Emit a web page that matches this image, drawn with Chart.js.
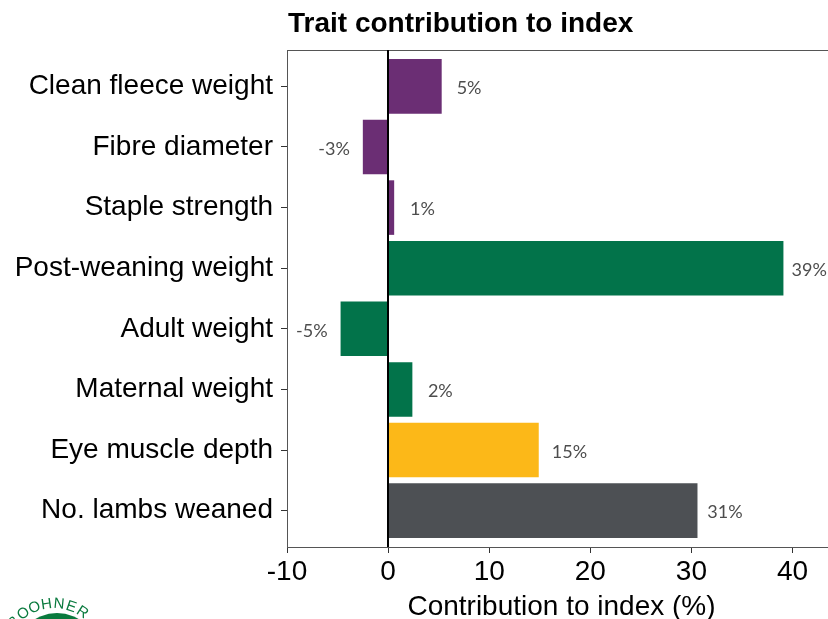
<!DOCTYPE html>
<html>
<head>
<meta charset="utf-8">
<script src="https://cdn.jsdelivr.net/npm/chart.js@4/dist/chart.umd.min.js"></script>
<style>
  html, body { margin: 0; padding: 0; background: #fff; overflow: hidden; }
  canvas { display: block; }
</style>
</head>
<body>
<canvas id="chart" width="840" height="619"></canvas>
<script>
const traits = ['Clean fleece weight', 'Fibre diameter', 'Staple strength', 'Post-weaning weight',
                'Adult weight', 'Maternal weight', 'Eye muscle depth', 'No. lambs weaned']
const contribution = [5.3, -2.5, 0.6, 39.1, -4.7, 2.4, 14.9, 30.6]
const valueLabels = ['5%', '-3%', '1%', '39%', '-5%', '2%', '15%', '31%']
const barColors = ['#6b2e74', '#6b2e74', '#6b2e74', '#02734a', '#02734a', '#02734a', '#fcb818', '#4d5054']
const xTicks = [-10, 0, 10, 20, 30, 40]

const titlePlugin = {
  id: 'panelExtras',
  beforeDatasetsDraw(chart) {
    const { ctx, chartArea: a } = chart
    ctx.save()
    ctx.strokeStyle = '#555'
    ctx.lineWidth = 1
    ctx.strokeRect(a.left + 0.5, a.top + 0.5, a.right - a.left, a.bottom - a.top)
    ctx.restore()
  },
  afterDatasetsDraw(chart) {
    const { ctx, chartArea: a } = chart
    const x = chart.scales.x
    const meta = chart.getDatasetMeta(0)
    ctx.save()
    // zero line
    ctx.strokeStyle = '#000'
    ctx.lineWidth = 2
    ctx.beginPath()
    ctx.moveTo(Math.round(x.getPixelForValue(0)), a.top)
    ctx.lineTo(Math.round(x.getPixelForValue(0)), a.bottom)
    ctx.stroke()
    // value labels
    ctx.font = '18px Lato'
    ctx.fillStyle = '#4d4d4d'
    ctx.textBaseline = 'middle'
    meta.data.forEach((bar, i) => {
      const v = contribution[i]
      if (v >= 0) { ctx.textAlign = 'left'; ctx.fillText(valueLabels[i], bar.x + 16 - 0.2 * v, bar.y + 2) }
      else { ctx.textAlign = 'right'; ctx.fillText(valueLabels[i], bar.x - 13, bar.y + 2) }
    })
    // title
    ctx.font = 'bold 28px "Liberation Sans"'
    ctx.fillStyle = '#000'
    ctx.textAlign = 'left'
    ctx.textBaseline = 'alphabetic'
    ctx.fillText('Trait contribution to index', a.left + 1, 32)
    // logo remnant bottom-left
    ctx.fillStyle = '#0a7a3e'
    ctx.beginPath()
    ctx.arc(57, 655, 42, 0, Math.PI * 2)
    ctx.fill()
    ctx.font = '15px "Liberation Sans"'
    ctx.textAlign = 'center'
    ctx.textBaseline = 'middle'
    const letters = ['B', 'O', 'O', 'H', 'N', 'E', 'R']
    letters.forEach((ch, i) => {
      const ang = -Math.PI / 2 + (i - 3.6) * 0.24
      ctx.save()
      ctx.translate(54 + 52 * Math.cos(ang), 656 + 52 * Math.sin(ang))
      ctx.rotate(ang + Math.PI / 2)
      ctx.fillText(ch, 0, 0)
      ctx.restore()
    })
    ctx.restore()
  }
}

const ctx = document.getElementById('chart').getContext('2d')
new Chart(ctx, {
  type: 'bar',
  data: {
    datasets: [{
      data: contribution.map((v, i) => ({ x: v, y: i })),
      backgroundColor: barColors,
      borderWidth: 0,
      barPercentage: 0.9,
      categoryPercentage: 1
    }]
  },
  plugins: [titlePlugin],
  options: {
    indexAxis: 'y',
    responsive: false,
    animation: false,
    events: [],
    layout: { padding: { top: 50, right: 4, left: 0, bottom: 0 } },
    plugins: { legend: { display: false }, tooltip: { enabled: false } },
    scales: {
      x: {
        type: 'linear',
        min: -10,
        max: 44.3,
        afterBuildTicks: s => { s.ticks = xTicks.map(v => ({ value: v })) },
        afterFit: s => { s.height = 72 },
        grid: { drawOnChartArea: false, drawTicks: true, tickLength: 6, tickColor: '#333', lineWidth: 1 },
        border: { display: false },
        ticks: { color: '#000', font: { family: 'Liberation Sans', size: 28 }, padding: 2, maxRotation: 0 },
        title: { display: true, text: 'Contribution to index (%)', color: '#000',
                 font: { family: 'Liberation Sans', size: 28 }, padding: { top: 0, bottom: -5 } }
      },
      y: {
        type: 'linear',
        reverse: true,
        offset: false,
        min: -0.6,
        max: 7.6,
        afterBuildTicks: s => { s.ticks = traits.map((t, i) => ({ value: i })) },
        afterFit: s => { s.width = 287 },
        grid: { offset: false, drawOnChartArea: false, drawTicks: true, tickLength: 6, tickColor: '#333', lineWidth: 1 },
        border: { display: false },
        ticks: { color: '#000', font: { family: 'Liberation Sans', size: 28 }, padding: 8,
                 callback: v => traits[v] }
      }
    }
  }
})
</script>
</body>
</html>
